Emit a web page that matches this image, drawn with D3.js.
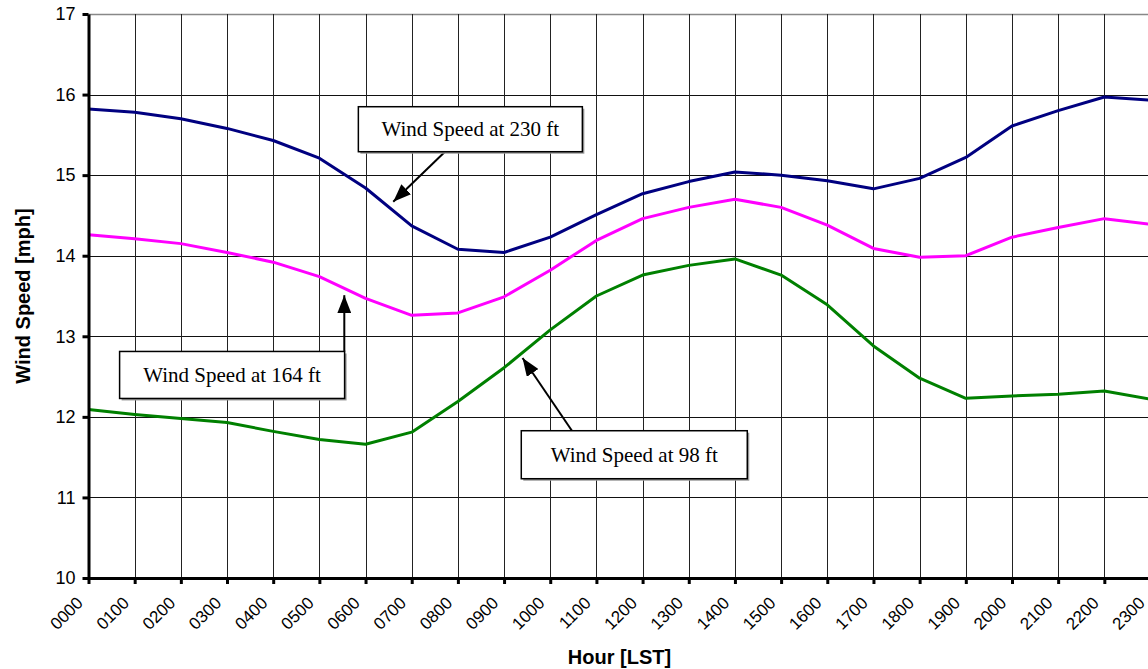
<!DOCTYPE html>
<html>
<head>
<meta charset="utf-8">
<script src="https://cdn.jsdelivr.net/npm/d3@7"></script>
<style>
  html, body { margin: 0; padding: 0; background: #fff; }
  svg { display: block; }
  .tick text { font-family: Arial, "Liberation Sans", sans-serif; fill: #000; }
  .title { font-family: Arial, "Liberation Sans", sans-serif; font-weight: bold; font-size: 20px; }
  .callout text { font-family: "Times New Roman", "Liberation Serif", serif; font-size: 21px; }
</style>
</head>
<body>
<svg id="chart" width="1148" height="669"></svg>
<script>

// hourly values
var hours = ['0000','0100','0200','0300','0400','0500','0600','0700','0800','0900','1000','1100',
             '1200','1300','1400','1500','1600','1700','1800','1900','2000','2100','2200','2300'];

var speed230 = [15.82, 15.78, 15.70, 15.58, 15.43, 15.21, 14.84, 14.37, 14.08, 14.04, 14.23, 14.51,
                14.77, 14.92, 15.04, 15.00, 14.93, 14.83, 14.96, 15.22, 15.61, 15.80, 15.97, 15.93];

var speed164 = [14.26, 14.21, 14.15, 14.04, 13.92, 13.74, 13.47, 13.26, 13.29, 13.49, 13.82, 14.19,
                14.46, 14.60, 14.70, 14.60, 14.38, 14.09, 13.98, 14.00, 14.23, 14.35, 14.46, 14.39];

var speed98  = [12.09, 12.03, 11.98, 11.93, 11.82, 11.72, 11.66, 11.81, 12.19, 12.61, 13.08, 13.50,
                13.76, 13.88, 13.96, 13.76, 13.39, 12.88, 12.48, 12.23, 12.26, 12.28, 12.32, 12.22];

var yTicks = [10, 11, 12, 13, 14, 15, 16, 17];

var series = [
    {name: 'Wind Speed at 230 ft', values: speed230, color: '#000080'},
    {name: 'Wind Speed at 164 ft', values: speed164, color: '#ff00ff'},
    {name: 'Wind Speed at 98 ft',  values: speed98,  color: '#008000'}
];

// callouts, anchored in chart units (hour index / mph)
var callouts = [
    {text: 'Wind Speed at 230 ft', bx: 8.27, by: 15.57, w: 224, h: 45, tail: 'bottom', tx: 7.72, px: 6.60, py: 14.67},
    {text: 'Wind Speed at 164 ft', bx: 3.11, by: 12.52, w: 225, h: 47, tail: 'top',    tx: 5.54, px: 5.54, py: 13.51},
    {text: 'Wind Speed at 98 ft',  bx: 11.82, by: 11.53, w: 226, h: 48, tail: 'top',   tx: 10.47, px: 9.40, py: 12.73}
];

var svg = d3.select('#chart');

var x = d3.scaleLinear().domain([0, 23]).range([88.5, 1150.5]),
    y = d3.scaleLinear().domain([10, 17]).range([578, 14]);

// grid
var grid = svg.append('g').attr('class', 'grid');

grid.selectAll('line.h')
    .data(yTicks)
    .enter().append('line')
    .attr('class', 'h')
    .attr('x1', x(0)).attr('x2', x(23))
    .attr('y1', function(d) { return Math.round(y(d)) + 0.5 })
    .attr('y2', function(d) { return Math.round(y(d)) + 0.5 })
    .attr('stroke', function(d) { return d == 17 ? '#888' : '#111' })
    .attr('stroke-width', function(d) { return d == 17 ? 1.5 : 1 });

grid.selectAll('line.v')
    .data(d3.range(1, 24))
    .enter().append('line')
    .attr('class', 'v')
    .attr('x1', function(d) { return Math.round(x(d)) + 0.5 })
    .attr('x2', function(d) { return Math.round(x(d)) + 0.5 })
    .attr('y1', y(17)).attr('y2', y(10))
    .attr('stroke', '#222')
    .attr('stroke-width', 1);

// lines
var line = d3.line()
    .x(function(d, i) { return x(i) })
    .y(function(d) { return y(d) });

svg.append('g').selectAll('path')
    .data(series)
    .enter().append('path')
    .attr('d', function(s) { return line(s.values) })
    .attr('fill', 'none')
    .attr('stroke', function(s) { return s.color })
    .attr('stroke-width', 3)
    .attr('stroke-linejoin', 'round');

// axes
var xAxis = d3.axisBottom(x)
    .tickValues(d3.range(0, 24))
    .tickFormat(function(i) { return hours[i] })
    .tickSize(6)
    .tickSizeOuter(0);

var yAxis = d3.axisLeft(y)
    .tickValues(yTicks)
    .tickFormat(d3.format('d'))
    .tickSize(6)
    .tickPadding(7)
    .tickSizeOuter(0);

var gx = svg.append('g')
    .attr('transform', 'translate(0,' + y(10) + ')')
    .call(xAxis);

gx.selectAll('.tick text')
    .attr('font-size', 17)
    .attr('text-anchor', 'end')
    .attr('dy', null)
    .attr('y', 0)
    .attr('transform', 'translate(-5,26) rotate(-45)');

var gy = svg.append('g')
    .attr('transform', 'translate(' + x(0) + ',0)')
    .call(yAxis);

gy.selectAll('.tick text').attr('font-size', 18);

[gx, gy].forEach(function(g) {
    g.select('.domain').attr('stroke', '#000').attr('stroke-width', 3);
    g.selectAll('.tick line').attr('stroke', '#000').attr('stroke-width', 3);
});

// axis titles
svg.append('text')
    .attr('class', 'title')
    .attr('x', (x(0) + x(23)) / 2)
    .attr('y', 664)
    .attr('text-anchor', 'middle')
    .text('Hour [LST]');

svg.append('text')
    .attr('class', 'title')
    .attr('transform', 'translate(30,' + (y(10) + y(17)) / 2 + ') rotate(-90)')
    .attr('text-anchor', 'middle')
    .text('Wind Speed [mph]');

// callouts
svg.append('defs').append('marker')
    .attr('id', 'arrow')
    .attr('markerUnits', 'userSpaceOnUse')
    .attr('viewBox', '0 0 18 14')
    .attr('markerWidth', 18)
    .attr('markerHeight', 14)
    .attr('refX', 18)
    .attr('refY', 7)
    .attr('orient', 'auto')
    .append('path')
    .attr('d', 'M0,0 L18,7 L0,14 Z')
    .attr('fill', '#000');

var co = svg.append('g').attr('class', 'callout')
    .selectAll('g')
    .data(callouts)
    .enter().append('g');

co.append('line')
    .attr('x1', function(c) { return x(c.tx) })
    .attr('y1', function(c) { return c.tail == 'bottom' ? y(c.by) + c.h / 2 : y(c.by) - c.h / 2 })
    .attr('x2', function(c) { return x(c.px) })
    .attr('y2', function(c) { return y(c.py) })
    .attr('stroke', '#000')
    .attr('stroke-width', 2)
    .attr('marker-end', 'url(#arrow)');

co.append('rect')
    .attr('x', function(c) { return x(c.bx) - c.w / 2 + 2 })
    .attr('y', function(c) { return y(c.by) - c.h / 2 + 2 })
    .attr('width', function(c) { return c.w })
    .attr('height', function(c) { return c.h })
    .attr('fill', '#999');

co.append('rect')
    .attr('x', function(c) { return x(c.bx) - c.w / 2 })
    .attr('y', function(c) { return y(c.by) - c.h / 2 })
    .attr('width', function(c) { return c.w })
    .attr('height', function(c) { return c.h })
    .attr('fill', '#fff')
    .attr('stroke', '#000')
    .attr('stroke-width', 1.5);

co.append('text')
    .attr('x', function(c) { return x(c.bx) })
    .attr('y', function(c) { return y(c.by) + 7 })
    .attr('text-anchor', 'middle')
    .text(function(c) { return c.text });

</script>
</body>
</html>
